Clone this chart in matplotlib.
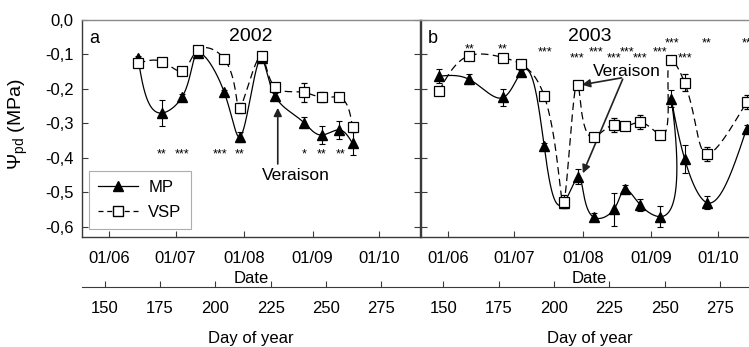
import numpy as np
import matplotlib
matplotlib.use('Agg')
import matplotlib.pyplot as plt
from matplotlib.ticker import FuncFormatter

plt.rcParams['font.family'] = ['Liberation Sans', 'DejaVu Sans']
plt.rcParams['mathtext.fontset'] = 'custom'
plt.rcParams['mathtext.rm'] = 'Liberation Sans'
plt.rcParams['mathtext.it'] = 'Liberation Sans'

# --- 2002 ---
doy_02 = [165, 176, 185, 192, 204, 211, 221, 227, 240, 248, 256, 262]
mp_02 = [-0.11, -0.27, -0.223, -0.097, -0.21, -0.34, -0.111, -0.221, -0.298, -0.334, -0.319, -0.358]
mp_err_02 = [0.006, 0.037, 0.008, 0.005, 0.008, 0.015, 0.005, 0.008, 0.015, 0.025, 0.027, 0.035]
vsp_02 = [-0.126, -0.121, -0.149, -0.087, -0.113, -0.256, -0.104, -0.195, -0.21, -0.224, -0.225, -0.312]
vsp_err_02 = [0.008, 0.005, 0.008, 0.005, 0.01, 0.015, 0.005, 0.008, 0.027, 0.015, 0.006, 0.012]

# --- 2003 ---
doy_03 = [148, 161.5, 177, 185, 195.5, 204.5, 211, 218, 227, 232, 239, 248, 253, 259, 269, 287]
mp_03 = [-0.163, -0.172, -0.225, -0.152, -0.365, -0.53, -0.455, -0.573, -0.55, -0.49,
         -0.537, -0.571, -0.229, -0.403, -0.53, -0.316]
mp_err_03 = [0.02, 0.015, 0.025, 0.008, 0.008, 0.005, 0.022, 0.012, 0.048, 0.01,
             0.017, 0.03, 0.025, 0.04, 0.02, 0.012]
vsp_03 = [-0.206, -0.104, -0.109, -0.128, -0.22, -0.527, -0.189, -0.34, -0.305, -0.308,
          -0.297, -0.334, -0.116, -0.182, -0.389, -0.239]
vsp_err_03 = [0.006, 0.006, 0.01, 0.006, 0.006, 0.02, 0.01, 0.008, 0.02, 0.01,
              0.02, 0.006, 0.006, 0.025, 0.02, 0.02]

# significance marks
stars_02_doy = [175.5, 185, 202, 211, 240, 248, 256.5]
stars_02_y = [-0.39] * 7
stars_02_txt = ['**', '***', '***', '**', '*', '**', '**']

stars_03_doy = [161.8, 176.6, 195.8, 210.4, 219, 227, 233, 239, 248, 253.2, 259, 269, 287]
stars_03_y = [-0.085, -0.085, -0.094, -0.112, -0.094, -0.112, -0.094, -0.112, -0.094,
              -0.068, -0.112, -0.068, -0.068]
stars_03_txt = ['**', '**', '***', '***', '***', '***', '***', '***', '***', '***', '***', '**', '**']

date_ticks = [152, 182, 213, 244, 274]
date_labels = ['01/06', '01/07', '01/08', '01/09', '01/10']
doy_ticks = [150, 175, 200, 225, 250, 275]
y_ticks = [0.0, -0.1, -0.2, -0.3, -0.4, -0.5, -0.6]


def natural_spline(t, v, ts):
    t = np.asarray(t, float)
    v = np.asarray(v, float)
    n = len(t)
    h = np.diff(t)
    A = np.zeros((n, n))
    r = np.zeros(n)
    A[0, 0] = A[-1, -1] = 1
    for i in range(1, n - 1):
        A[i, i - 1] = h[i - 1]
        A[i, i] = 2 * (h[i - 1] + h[i])
        A[i, i + 1] = h[i]
        r[i] = 6 * ((v[i + 1] - v[i]) / h[i] - (v[i] - v[i - 1]) / h[i - 1])
    M = np.linalg.solve(A, r)
    k = np.clip(np.searchsorted(t, ts) - 1, 0, n - 2)
    t0, t1 = t[k], t[k + 1]
    hk = t1 - t0
    a = (t1 - ts) / hk
    b = (ts - t0) / hk
    return a * v[k] + b * v[k + 1] + ((a**3 - a) * M[k] + (b**3 - b) * M[k + 1]) * hk**2 / 6


def smooth(x, y, sx=2.21, sy=344.5, num=800):
    # parametric spline (chord length, in screen-like units) like SigmaPlot's curves
    px = np.asarray(x, float) * sx
    py = np.asarray(y, float) * sy
    t = np.concatenate([[0], np.cumsum(np.hypot(np.diff(px), np.diff(py)))])
    ts = np.linspace(0, t[-1], num)
    return natural_spline(t, px, ts) / sx, natural_spline(t, py, ts) / sy


W, H = 749, 347
fig = plt.figure(figsize=(W / 100, H / 100), dpi=100)
ax_w = 338 / W
ax_h = 217 / H
ax_b = (H - 237) / H
ax_a = fig.add_axes([82 / W, ax_b, ax_w, ax_h])
ax_bb = fig.add_axes([420.7 / W, ax_b, ax_w, ax_h])

spine_col = '#3a3a3a'
comma = FuncFormatter(lambda v, p: f'{v:.1f}'.replace('.', ','))


def draw_panel(ax, doy, mp, mp_err, vsp, vsp_err, letter, year, first):
    xs, ys = smooth(doy, mp)
    ax.plot(xs, ys, color='black', lw=0.9, zorder=2)
    xs, ys = smooth(doy, vsp)
    ax.plot(xs, ys, color='black', lw=0.9, ls=(0, (6, 3.5)), zorder=2)
    ax.errorbar(doy, mp, yerr=mp_err, fmt='^', ms=7.5, color='black', mfc='black',
                ecolor='black', elinewidth=0.8, capsize=2.5, capthick=0.8, zorder=3)
    ax.errorbar(doy, vsp, yerr=vsp_err, fmt='s', ms=6.5, color='black', mfc='white',
                mew=0.9, ecolor='black', elinewidth=0.8, capsize=2.5, capthick=0.8, zorder=4)

    ax.set_xlim(139.7, 292.5)
    ax.set_ylim(-0.63, 0.0)
    ax.set_xticks(date_ticks)
    ax.set_xticklabels(date_labels)
    ax.set_yticks(y_ticks)
    ax.yaxis.set_major_formatter(comma)
    ax.tick_params(direction='in', length=4, width=0.8, color=spine_col,
                   top=True, right=True, labelsize=12)
    ax.tick_params(axis='x', pad=10)
    ax.tick_params(axis='y', pad=6, labelleft=first)
    for s in ax.spines.values():
        s.set_color(spine_col)
        s.set_linewidth(1.0)
    ax.spines['top'].set_color('#8a8a8a')
    ax.set_xlabel('Date', fontsize=12, labelpad=4)

    ax.text(0.022, 0.955, letter, transform=ax.transAxes, fontsize=13, ha='left', va='top')
    ax.text(0.5, 0.925, year, transform=ax.transAxes, fontsize=14, ha='center', va='center')

    # day of year axis
    ax2 = ax.twiny()
    ax2.set_xlim(ax.get_xlim())
    ax2.xaxis.set_ticks_position('bottom')
    ax2.xaxis.set_label_position('bottom')
    ax2.spines['bottom'].set_position(('outward', 36))
    for side in ['top', 'left', 'right']:
        ax2.spines[side].set_visible(False)
    ax2.spines['bottom'].set_color(spine_col)
    ax2.set_xticks(doy_ticks)
    ax2.tick_params(direction='in', length=4, width=0.8, color=spine_col, labelsize=12, pad=10)
    ax2.set_xlabel('Day of year', fontsize=12, labelpad=11)


draw_panel(ax_a, doy_02, mp_02, mp_err_02, vsp_02, vsp_err_02, 'a', '2002', True)
draw_panel(ax_bb, doy_03, mp_03, mp_err_03, vsp_03, vsp_err_03, 'b', '2003', False)

ax_a.set_ylabel(r'$\Psi_{\rm pd}$ (MPa)', fontsize=14)
ax_a.yaxis.set_label_coords(-0.155, 0.52)

for d, yv, t in zip(stars_02_doy, stars_02_y, stars_02_txt):
    ax_a.text(d, yv, t, fontsize=9, ha='center', va='center')
for d, yv, t in zip(stars_03_doy, stars_03_y, stars_03_txt):
    ax_bb.text(d, yv, t, fontsize=9, ha='center', va='center')

arrow = dict(arrowstyle='-|>', color='#222222', lw=1.2, mutation_scale=12, shrinkA=0, shrinkB=0)
ax_a.annotate('', xy=(228.2, -0.255), xytext=(228.2, -0.418), arrowprops=arrow)
ax_a.text(236.5, -0.452, 'Veraison', fontsize=12.5, ha='center', va='center')
ax_bb.text(233, -0.15, 'Veraison', fontsize=12.5, ha='center', va='center', zorder=5)
ax_bb.annotate('', xy=(212.6, -0.188), xytext=(230.5, -0.168), arrowprops=arrow)
ax_bb.annotate('', xy=(213.0, -0.445), xytext=(231.0, -0.172), arrowprops=arrow)

handles = [plt.Line2D([], [], color='black', lw=0.9, marker='^', ms=7.5),
           plt.Line2D([], [], color='black', lw=0.9, ls=(0, (4, 3)), marker='s', ms=6.5, mfc='white')]
leg = ax_a.legend(handles, ['MP', 'VSP'], loc='lower left', bbox_to_anchor=(0.021, 0.035),
                  borderaxespad=0, fontsize=12, handlelength=2.4, handletextpad=0.6,
                  labelspacing=0.6, fancybox=False, borderpad=0.55)
leg.get_frame().set_edgecolor('#999999')
leg.get_frame().set_linewidth(0.8)

fig.savefig('out.png', dpi=100)
